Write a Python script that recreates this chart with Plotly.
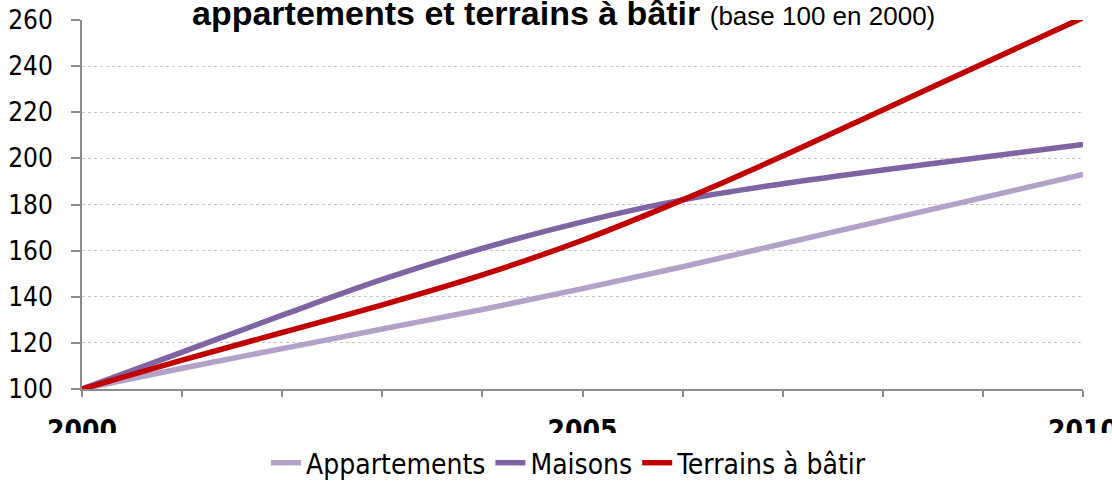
import plotly.graph_objects as go

years = [2000, 2001, 2002, 2003, 2004, 2005, 2006, 2007, 2008, 2009, 2010]
appartements = [100, 109, 117.5, 126, 134.5, 143.5, 153, 163, 173, 183, 193]
maisons = [100, 116, 132, 147.5, 161, 172.5, 182, 189, 195, 200.5, 206]
terrains = [100, 112.5, 124.5, 136.5, 149.5, 164.5, 182, 201, 221, 241, 261]

x_tick_text = ["2000", "", "", "", "", "2005", "", "", "", "", "2010"]
y_ticks = [100, 120, 140, 160, 180, 200, 220, 240, 260]

series = [
    ("Appartements", appartements, "#B3A2C7"),
    ("Maisons", maisons, "#8064A2"),
    ("Terrains à bâtir", terrains, "#C00000"),
]

fig = go.Figure()
for name, vals, color in series:
    fig.add_trace(go.Scatter(
        x=years, y=vals, name=name, mode="lines",
        line=dict(color=color, width=5.5, shape="spline", smoothing=1.0),
        hoverinfo="skip",
    ))

W, H = 1112, 482
L, T = 82, 20
PW, PH = 1001, 369
R = W - L - PW
B = H - T - PH

def py(pix):
    return 1 - (pix - T) / PH

def px(pix):
    return (pix - L) / PW

fig.update_layout(
    width=W, height=H,
    margin=dict(l=L, r=R, t=T, b=B, autoexpand=False),
    paper_bgcolor="white", plot_bgcolor="white",
    showlegend=True,
    legend=dict(
        orientation="h", x=px(569), xanchor="center", y=py(438), yanchor="top",
        font=dict(family="DejaVu Sans Condensed, DejaVu Sans", size=28, color="#000"),
        bgcolor="rgba(0,0,0,0)", itemwidth=30, traceorder="normal",
        tracegroupgap=0,
    ),
    xaxis=dict(
        range=[2000, 2010], tickmode="array", tickvals=years, ticktext=x_tick_text,
        showgrid=False, zeroline=False, showline=True, linecolor="#8C8C8C", linewidth=2,
        ticks="outside", ticklen=6, tickwidth=2, tickcolor="#8C8C8C",
        tickfont=dict(family="DejaVu Sans Condensed, DejaVu Sans", size=28, color="#000", weight="bold"),
        ticklabelstandoff=9, ticklabeloverflow="allow", fixedrange=True,
    ),
    yaxis=dict(
        range=[100, 260], tickmode="array", tickvals=y_ticks,
        showgrid=True, gridcolor="#C8C8C8", griddash="dot", gridwidth=1,
        zeroline=False, showline=True, linecolor="#8C8C8C", linewidth=2,
        ticks="outside", ticklen=9, tickwidth=2, tickcolor="#8C8C8C",
        tickfont=dict(family="DejaVu Sans Condensed, DejaVu Sans", size=26, color="#000"),
        ticklabelstandoff=13, ticklabeloverflow="allow", fixedrange=True,
    ),
    shapes=[dict(
        type="rect", xref="paper", yref="paper", layer="above",
        x0=-0.2, x1=1.2, y0=-0.5, y1=py(433),
        fillcolor="white", line=dict(width=0),
    )],
    annotations=[dict(
        xref="paper", yref="paper", x=px(190), y=py(13),
        xanchor="left", yanchor="middle", showarrow=False,
        text="<b>appartements et terrains à bâtir</b> <span style='font-size:26px'>(base 100 en 2000)</span>",
        font=dict(family="Liberation Sans, Arial", size=34, color="#000"),
    )],
)

fig.write_html("out.html", config={"displayModeBar": False},
               post_script="document.body.style.margin='0';")
